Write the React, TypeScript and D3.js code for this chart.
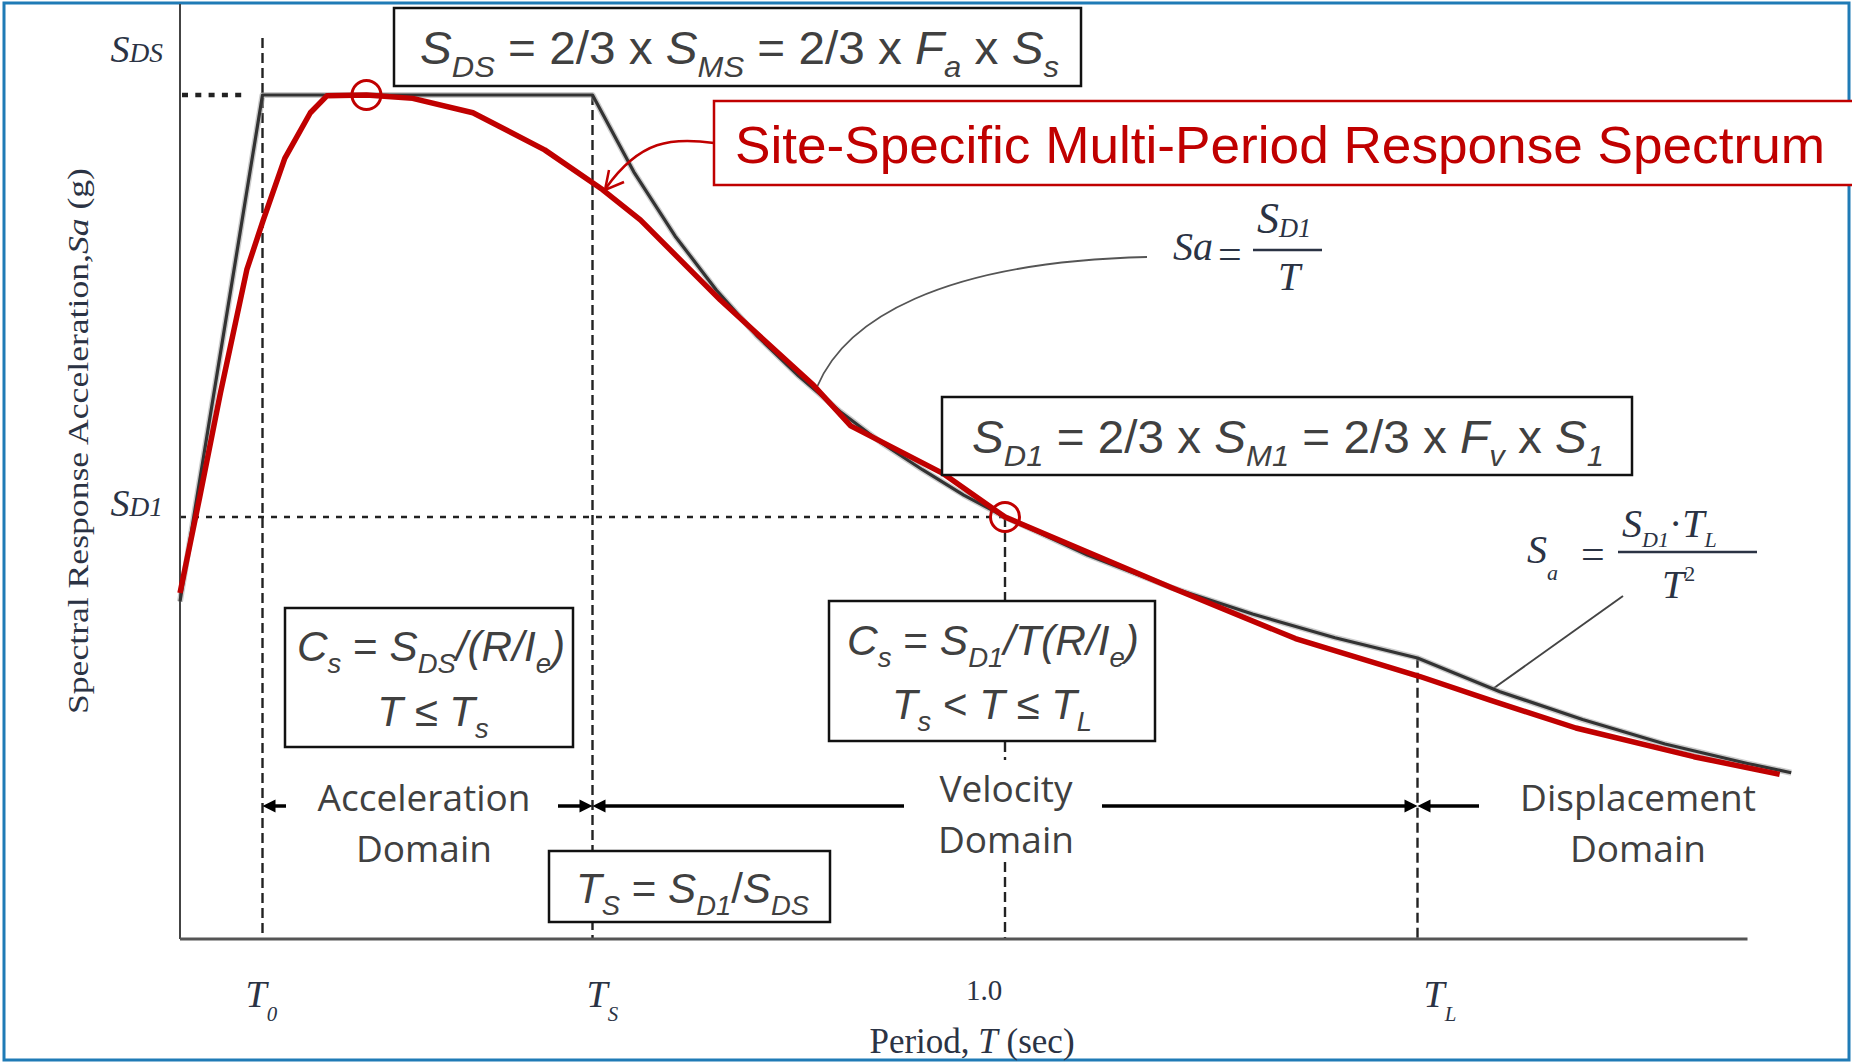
import React from "react";
import * as d3 from "d3";

// ---- data (Sa normalised to S_DS = 1) ----
const designPeriod = [0, 0.1, 0.5, 0.55, 0.6, 0.65, 0.7, 0.75, 0.8, 0.85, 0.9, 0.95, 1.0, 1.1, 1.2, 1.3, 1.4, 1.5, 1.6, 1.7, 1.8, 1.9, 1.953];
const designSa = [0.4, 1.0, 1.0, 0.909, 0.833, 0.769, 0.714, 0.667, 0.625, 0.588, 0.556, 0.526, 0.5, 0.455, 0.417, 0.385, 0.357, 0.333, 0.293, 0.26, 0.231, 0.208, 0.197];

const sitePeriod = [0, 0.024, 0.049, 0.081, 0.101, 0.127, 0.158, 0.178, 0.226, 0.282, 0.355, 0.442, 0.512, 0.558, 0.655, 0.768, 0.813, 0.924, 1.0, 1.2, 1.352, 1.503, 1.588, 1.692, 1.835, 1.939];
const siteSa = [0.41, 0.524, 0.647, 0.793, 0.852, 0.925, 0.979, 0.999, 1.0, 0.996, 0.979, 0.935, 0.888, 0.852, 0.757, 0.656, 0.608, 0.552, 0.5, 0.417, 0.356, 0.311, 0.283, 0.25, 0.216, 0.195];

const markPeriod = [0.226, 1.0];
const markSa = [1.0, 0.5];

const tickPeriods = [0.1, 0.5, 1.0, 1.5];
const tickMain = ["T", "T", "1.0", "T"];
const tickSub = ["0", "S", "", "L"];

const T0 = 0.1, TS = 0.5, T1 = 1.0, TL = 1.5;
const SDS = 1.0, SD1 = 0.5;

const W = 1852, H = 1062;
const x = d3.scaleLinear().domain([0, 1.9]).range([180, 1747.5]);
const y = d3.scaleLinear().domain([0, 1]).range([939, 95]);

type Seg = [string, string?];

function Rich(props: any) {
  const { x: px, y: py, size, family, fill, anchor = "start", segs, subScale = 0.65, subDy = 0.28, supDy = -0.42, textLength, italicAll } = props;
  let cur = 0;
  return (
    <text x={px} y={py} fontSize={size} fontFamily={family} fill={fill} textAnchor={anchor}
      style={{ whiteSpace: "pre" }}
      textLength={textLength} lengthAdjust={textLength ? "spacingAndGlyphs" : undefined}>
      {segs.map((s: Seg, k: number) => {
        const f = s[1] || "";
        const sub = f.includes("b"), sup = f.includes("p");
        const off = sub ? subDy * size : sup ? supDy * size : 0;
        const dy = off - cur;
        cur = off;
        return (
          <tspan key={k} dy={dy} fontSize={sub || sup ? size * subScale : size}
            fontStyle={f.includes("i") || italicAll ? "italic" : "normal"}>{s[0]}</tspan>
        );
      })}
    </text>
  );
}

const SANS = "'Liberation Sans', Arial, sans-serif";
const SERIF = "'Liberation Serif', 'Times New Roman', serif";
const DOM = "'Open Sans', 'Liberation Sans', sans-serif";
const GREY = "#404040";
const NAVY = "#2b3344";
const RED = "#c00000";

function head(px: number, py: number, dir: number) {
  return `M${px},${py} L${px - dir * 13},${py - 6.5} L${px - dir * 13},${py + 6.5} Z`;
}

export default function App() {
  const designPath = d3.line<number>().x((t) => x(t)).y((_, i) => y(designSa[i]))(designPeriod) || "";
  const sitePath = d3.line<number>().x((t) => x(t)).y((_, i) => y(siteSa[i]))(sitePeriod) || "";
  const ay = 806;

  return (
    <svg width={W} height={H} style={{ position: "absolute", left: 0, top: 0, background: "#fff" }}>
      <rect x={0} y={0} width={W} height={H} fill="#fff" />
      <rect x={4} y={3} width={1845} height={1057} fill="none" stroke="#1f7bb6" strokeWidth={3} />

      {/* reference dashed / dotted lines */}
      <line x1={x(T0)} x2={x(T0)} y1={38} y2={y(0)} stroke="#222" strokeWidth={2.4} strokeDasharray="10 5" />
      <line x1={x(TS)} x2={x(TS)} y1={y(SDS)} y2={y(0)} stroke="#222" strokeWidth={2.4} strokeDasharray="10 5" />
      <line x1={x(T1)} x2={x(T1)} y1={y(SD1)} y2={y(0)} stroke="#222" strokeWidth={2.4} strokeDasharray="10 5" />
      <line x1={x(TL)} x2={x(TL)} y1={y(SD1 / 1.5)} y2={y(0)} stroke="#222" strokeWidth={2.4} strokeDasharray="10 5" />
      <line x1={x(0)} x2={x(T1)} y1={y(SD1)} y2={y(SD1)} stroke="#222" strokeWidth={2.4} strokeDasharray="6 7" />
      <line x1={x(0) + 2} x2={x(T0) - 16} y1={y(SDS)} y2={y(SDS)} stroke="#222" strokeWidth={4.5} strokeDasharray="6 7.3" />

      {/* axes */}
      <line x1={x(0)} x2={x(0)} y1={4} y2={y(0)} stroke="#444" strokeWidth={2} />
      <line x1={x(0)} x2={x(1.9)} y1={y(0)} y2={y(0)} stroke="#555" strokeWidth={2.8} />

      {/* leader lines for formula labels */}
      <path d="M817,387 C845,320 940,262 1147,257" fill="none" stroke="#555" strokeWidth={1.8} />
      <line x1={1494} y1={688} x2={1623} y2={596} stroke="#444" strokeWidth={2} />

      {/* design spectrum */}
      <path d={designPath} fill="none" stroke="#9a9a9a" strokeWidth={6} strokeOpacity={0.5} strokeLinejoin="round" />
      <path d={designPath} fill="none" stroke="#333" strokeWidth={3.2} strokeLinejoin="round" />

      {/* site-specific spectrum */}
      <path d={sitePath} fill="none" stroke={RED} strokeWidth={5.5} strokeLinejoin="round" />
      {markPeriod.map((t, i) => (
        <circle key={i} cx={x(t)} cy={y(markSa[i])} r={14.5} fill="none" stroke={RED} strokeWidth={3} />
      ))}

      {/* red callout */}
      <path d="M714,143 C672,137 640,140 606,188" fill="none" stroke={RED} strokeWidth={2.5} />
      <path d="M624,182 L605,190 L609,170" fill="none" stroke={RED} strokeWidth={2.5} />
      <rect x={714} y={101} width={1140} height={84} fill="#fff" stroke={RED} strokeWidth={2.5} />
      <text x={735} y={163} fontSize={52} fontFamily={SANS} fill={RED} textLength={1090} lengthAdjust="spacingAndGlyphs">Site-Specific Multi-Period Response Spectrum</text>

      {/* S_DS box */}
      <rect x={394} y={8} width={687} height={78} fill="#fff" stroke="#111" strokeWidth={2.5} />
      <Rich x={420} y={64} size={46} family={SANS} fill={GREY} textLength={639}
        segs={[["S", "i"], ["DS", "ib"], [" = 2/3 x "], ["S", "i"], ["MS", "ib"], [" = 2/3 x "], ["F", "i"], ["a", "ib"], [" x "], ["S", "i"], ["s", "ib"]]} />

      {/* S_D1 box */}
      <rect x={942} y={397} width={690} height={78} fill="#fff" stroke="#111" strokeWidth={2.5} />
      <Rich x={972} y={453} size={46} family={SANS} fill={GREY} textLength={632}
        segs={[["S", "i"], ["D1", "ib"], [" = 2/3 x "], ["S", "i"], ["M1", "ib"], [" = 2/3 x "], ["F", "i"], ["v", "ib"], [" x "], ["S", "i"], ["1", "ib"]]} />

      {/* Cs boxes */}
      <rect x={285} y={608} width={288} height={139} fill="#fff" stroke="#111" strokeWidth={2.5} />
      <Rich x={297} y={661} size={42} family={SANS} fill={GREY} textLength={268}
        segs={[["C", "i"], ["s", "ib"], [" = "], ["S", "i"], ["DS", "ib"], ["/(R/I", "i"], ["e", "ib"], [")", "i"]]} />
      <Rich x={433} y={726} size={42} family={SANS} fill={GREY} anchor="middle"
        segs={[["T", "i"], [" ≤ "], ["T", "i"], ["s", "ib"]]} />

      <rect x={829} y={601} width={326} height={140} fill="#fff" stroke="#111" strokeWidth={2.5} />
      <Rich x={847} y={655} size={42} family={SANS} fill={GREY} textLength={292}
        segs={[["C", "i"], ["s", "ib"], [" = "], ["S", "i"], ["D1", "ib"], ["/T(R/I", "i"], ["e", "ib"], [")", "i"]]} />
      <Rich x={992} y={719} size={42} family={SANS} fill={GREY} anchor="middle"
        segs={[["T", "i"], ["s", "ib"], [" < "], ["T", "i"], [" ≤ "], ["T", "i"], ["L", "ib"]]} />

      {/* Ts box */}
      <rect x={549} y={851} width={281} height={71} fill="#fff" stroke="#111" strokeWidth={2.5} />
      <Rich x={576} y={903} size={42} family={SANS} fill={GREY} textLength={233}
        segs={[["T", "i"], ["S", "ib"], [" = "], ["S", "i"], ["D1", "ib"], ["/"], ["S", "i"], ["DS", "ib"]]} />

      {/* domain labels */}
      <rect x={960} y={760} width={96} height={100} fill="#fff" />
      <text x={424} y={811} fontSize={37} fontFamily={DOM} fill={GREY} textAnchor="middle">Acceleration</text>
      <text x={424} y={862} fontSize={37} fontFamily={DOM} fill={GREY} textAnchor="middle">Domain</text>
      <text x={1006} y={802} fontSize={37} fontFamily={DOM} fill={GREY} textAnchor="middle">Velocity</text>
      <text x={1006} y={853} fontSize={37} fontFamily={DOM} fill={GREY} textAnchor="middle">Domain</text>
      <text x={1638} y={811} fontSize={37} fontFamily={DOM} fill={GREY} textAnchor="middle">Displacement</text>
      <text x={1638} y={862} fontSize={37} fontFamily={DOM} fill={GREY} textAnchor="middle">Domain</text>

      {/* domain arrows */}
      <g stroke="#000" strokeWidth={3.5} fill="#000">
        <line x1={x(T0) + 10} x2={286} y1={ay} y2={ay} />
        <path d={head(x(T0), ay, -1)} stroke="none" />
        <line x1={558} x2={x(TS) - 10} y1={ay} y2={ay} />
        <path d={head(x(TS), ay, 1)} stroke="none" />
        <line x1={x(TS) + 10} x2={904} y1={ay} y2={ay} />
        <path d={head(x(TS), ay, -1)} stroke="none" />
        <line x1={1102} x2={x(TL) - 10} y1={ay} y2={ay} />
        <path d={head(x(TL), ay, 1)} stroke="none" />
        <line x1={x(TL) + 10} x2={1479} y1={ay} y2={ay} />
        <path d={head(x(TL), ay, -1)} stroke="none" />
      </g>

      {/* formula labels */}
      <text x={1173} y={260} fontSize={40} fontFamily={SERIF} fontStyle="italic" fill={NAVY}>Sa</text>
      <text x={1218} y={268} fontSize={42} fontFamily={SERIF} fill={NAVY}>=</text>
      <line x1={1253} x2={1322} y1={250} y2={250} stroke={NAVY} strokeWidth={2.5} />
      <Rich x={1257} y={233} size={44} family={SERIF} fill={NAVY} subScale={0.6} subDy={0.08}
        segs={[["S", "i"], ["D1", "ib"]]} />
      <text x={1289} y={290} fontSize={40} fontFamily={SERIF} fontStyle="italic" fill={NAVY} textAnchor="middle">T</text>

      <Rich x={1527} y={563} size={40} family={SERIF} fill={NAVY} subScale={0.55} subDy={0.42}
        segs={[["S", "i"], ["a", "ib"]]} />
      <text x={1581} y={568} fontSize={42} fontFamily={SERIF} fill={NAVY}>=</text>
      <line x1={1618} x2={1757} y1={552} y2={552} stroke={NAVY} strokeWidth={2.5} />
      <Rich x={1622} y={537} size={40} family={SERIF} fill={NAVY} subScale={0.55} subDy={0.25}
        segs={[["S", "i"], ["D1", "ib"], ["·"], ["T", "i"], ["L", "ib"]]} />
      <Rich x={1662} y={598} size={40} family={SERIF} fill={NAVY} subScale={0.55}
        segs={[["T", "i"], ["2", "p"]]} />

      {/* y-axis level labels */}
      <Rich x={163} y={62} size={38} family={SERIF} fill={NAVY} anchor="end" subScale={0.72} subDy={0}
        segs={[["S", "i"], ["DS", "ib"]]} />
      <Rich x={163} y={516} size={38} family={SERIF} fill={NAVY} anchor="end" subScale={0.72} subDy={0}
        segs={[["S", "i"], ["D1", "ib"]]} />

      {/* x ticks */}
      {tickPeriods.map((t, i) =>
        tickSub[i] ? (
          <Rich key={i} x={x(t) - (i === 0 ? 17 : i === 1 ? 6 : -6)} y={1007} size={38} family={SERIF} fill={NAVY}
            subScale={0.55} subDy={0.38} segs={[[tickMain[i], "i"], [tickSub[i], "ib"]]} />
        ) : (
          <text key={i} x={x(t) - 21} y={1000} fontSize={29} fontFamily={SERIF} fill={NAVY} textAnchor="middle">{tickMain[i]}</text>
        )
      )}

      {/* axis titles */}
      <Rich x={972} y={1053} size={35} family={SERIF} fill={NAVY} anchor="middle"
        segs={[["Period, "], ["T", "i"], [" (sec)"]]} />
      <g transform="translate(88,441) rotate(-90)">
        <Rich x={0} y={0} size={30} family={SERIF} fill={NAVY} anchor="middle" textLength={546}
          segs={[["Spectral Response Acceleration,"], ["Sa", "i"], [" (g)"]]} />
      </g>
    </svg>
  );
}
